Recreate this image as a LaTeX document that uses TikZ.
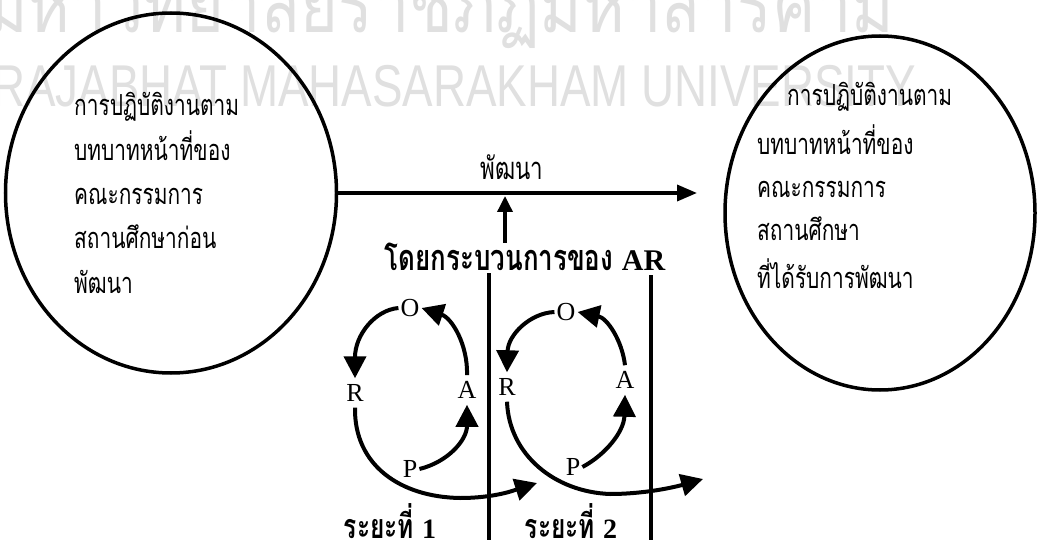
\documentclass[tikz,border=0pt]{standalone}
\usepackage{fontspec}
\usepackage{graphicx}
\setmainfont{Liberation Serif}
\newfontfamily\thai[Script=Thai, FakeStretch=0.72]{Loma}
\newfontfamily\wmthaifont[Script=Thai, FakeStretch=0.81]{Loma}
\newfontfamily\wmsans{Liberation Sans}
\usetikzlibrary{arrows.meta,shapes.geometric,calc}
\definecolor{wmgray}{gray}{0.88}
\begin{document}
\begin{tikzpicture}[x=1pt,y=-1pt,
  ring/.style={draw, line width=3.5pt, ellipse, inner sep=0pt},
  thaitext/.style={font=\thai\fontsize{29}{32}\selectfont, inner sep=0pt, anchor=base west},
  thaibold/.style={font=\thai\bfseries\fontsize{34}{38}\selectfont, inner sep=0pt},
  letter/.style={font=\fontsize{26}{26}\selectfont, inner xsep=2pt, inner ysep=6pt},
  cyc/.style={line width=4pt, -{Triangle[length=22pt,width=22pt]}},
  mainarrow/.style={line width=3.5pt, -{Triangle[length=20pt,width=16pt]}},
  divider/.style={line width=3.5pt},
  wmthai/.style={font=\wmthaifont\fontsize{80}{80}\selectfont, text=wmgray, inner sep=0pt, anchor=base west},
  wmlatin/.style={font=\wmsans\fontsize{59}{59}\selectfont, text=wmgray, inner sep=0pt, anchor=base west}
]
\useasboundingbox (0,0) rectangle (1039,540);
\fill[white] (0,0) rectangle (1039,540);
\begin{scope}
\clip (0,0) rectangle (1039,540);
\node[wmthai] (wm1) at (-15,33) {มหาวิทยาลัยราชภัฏมหาสารคาม};
\node[wmlatin] (wm2) at (-8,107) {\scalebox{0.775}[1]{RAJABHAT MAHASARAKHAM UNIVERSITY}};
\end{scope}

% ellipses
\node[ring, minimum width=331pt, minimum height=360pt] (L) at (171,193) {};
\node[ring, minimum width=310pt, minimum height=354pt] (Rt) at (880,213) {};

% left text
\node[thaitext] (l1) at (74,116) {การปฏิบัติงานตาม};
\node[thaitext] (l2) at (74,161) {บทบาทหน้าที่ของ};
\node[thaitext] (l3) at (74,205) {คณะกรรมการ};
\node[thaitext] (l4) at (74,248) {สถานศึกษาก่อน};
\node[thaitext] (l5) at (74,293) {พัฒนา};

% right text
\node[thaitext] (r1) at (787,106) {การปฏิบัติงานตาม};
\node[thaitext] (r2) at (757,155) {บทบาทหน้าที่ของ};
\node[thaitext] (r3) at (757,198) {คณะกรรมการ};
\node[thaitext] (r4) at (757,241) {สถานศึกษา};
\node[thaitext] (r5) at (757,288) {ที่ได้รับการพัฒนา};

% middle
\node[font=\thai\fontsize{31}{34}\selectfont, inner sep=0pt] (dev) at (512,167) {พัฒนา};
\coordinate (hend) at (697,193);
\draw[mainarrow] (L.east) -- (hend);
\node[thaibold, font=\thai\bfseries\fontsize{36}{40}\selectfont] (proc) at (525,257) {โดยกระบวนการของ {\rmfamily\bfseries\fontsize{30}{30}\selectfont AR}};
\coordinate (join) at (505,196);
\draw[mainarrow, -{Triangle[length=16pt,width=15pt]}] (join |- proc.north) -- (join);

% dividers
\coordinate (d1t) at (489,273);
\coordinate (d1b) at (489,540);
\coordinate (d2t) at (651,275);
\coordinate (d2b) at (651,540);
\draw[divider] (d1t) -- (d1b);
\draw[divider] (d2t) -- (d2b);

% cycle 1
\node[letter] (O1) at (410,308) {O};
\node[letter] (R1) at (355,393) {R};
\node[letter] (A1) at (467,390) {A};
\node[letter] (P1) at (410,469) {P};
\coordinate (e1) at (537,483);
\draw[cyc] (O1.west) .. controls (375,310) and (355,335) .. (R1.north);
\draw[cyc] (R1.south) .. controls (354,465) and (400,497) .. (460,498) .. controls (495,498) and (515,490) .. (e1);
\draw[cyc] (P1.east) .. controls (448,462) and (467,440) .. (A1.south);
\draw[cyc] (A1.north) .. controls (468,345) and (452,318) .. (O1.east);

% cycle 2
\node[letter] (O2) at (566,312) {O};
\node[letter] (R2) at (507,387) {R};
\node[letter] (A2) at (625,380) {A};
\node[letter] (P2) at (573,467) {P};
\coordinate (e2) at (703,479);
\draw[cyc] (O2.west) .. controls (530,313) and (508,335) .. (R2.north);
\draw[cyc] (R2.south) .. controls (509,455) and (555,492) .. (610,494) .. controls (645,494) and (675,487) .. (e2);
\draw[cyc] (P2.east) .. controls (605,455) and (624,432) .. (A2.south);
\draw[cyc] (A2.north) .. controls (622,340) and (607,318) .. (O2.east);

% stage labels
\node[thaibold] (s1) at (390,521) {ระยะที่ {\rmfamily\bfseries\fontsize{28}{28}\selectfont 1}};
\node[thaibold] (s2) at (571,521) {ระยะที่ {\rmfamily\bfseries\fontsize{28}{28}\selectfont 2}};
\end{tikzpicture}
\end{document}
